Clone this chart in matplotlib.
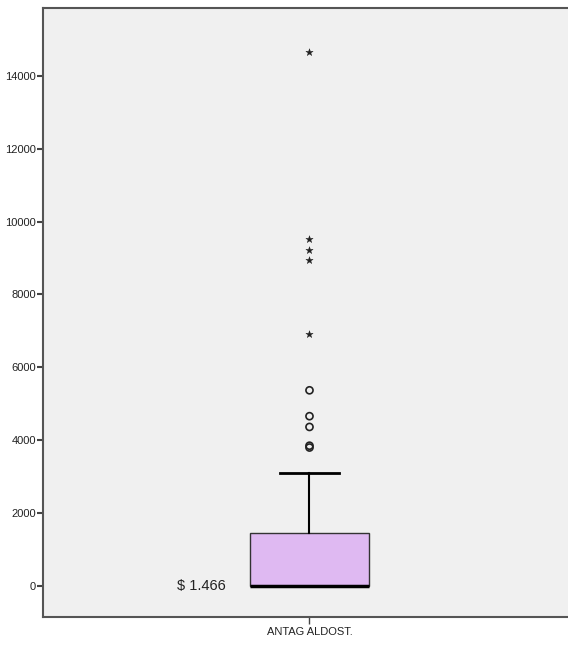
import matplotlib.pyplot as plt
import numpy as np

plt.rcParams['font.family'] = ['Liberation Sans', 'DejaVu Sans']

# boxplot summary
group = "ANTAG ALDOST."
q1 = 0
median = 0
q3 = 1466
whisker_lo = 0
whisker_hi = 3090
# outliers (circles) and extreme values (stars)
outliers = [5370, 4660, 4365, 3850, 3800]
extremes = [14640, 9530, 9230, 8950, 6920]
label_text = "$ 1.466"
yticks = [0, 2000, 4000, 6000, 8000, 10000, 12000, 14000]

fig = plt.figure(figsize=(5.68, 6.46), dpi=100)
ax = fig.add_axes([43/568, 29/646, 525/568, 609/646])
ax.set_facecolor('#f0f0f0')

pos = 0.5076
stats = [dict(med=median, q1=q1, q3=q3, whislo=whisker_lo, whishi=whisker_hi, fliers=[])]
ax.bxp(stats, positions=[pos], widths=0.2267, patch_artist=True, showfliers=False,
       boxprops=dict(facecolor='#dfb9f2', edgecolor='#333333', linewidth=1),
       medianprops=dict(color='black', linewidth=2.5),
       whiskerprops=dict(color='black', linewidth=1.5),
       capprops=dict(color='black', linewidth=2),
       capwidths=0.112)

ax.scatter([pos]*len(outliers), outliers, marker='o', s=26, facecolors='none',
           edgecolors='#222222', linewidths=1.2, zorder=3)
ax.scatter([pos]*len(extremes), extremes, marker='*', s=30, color='#222222',
           linewidths=0.3, zorder=3)

ax.text(0.3486, 0, label_text, ha='right', va='center', fontsize=10.5, color='#222222')

ax.set_xlim(0, 1)
ax.set_ylim(-850, 15860)
ax.set_yticks(yticks)
ax.set_yticklabels([str(v) for v in yticks], fontsize=8, color='#222222')
ax.set_xticks([pos])
ax.set_xticklabels([group], fontsize=8, color='#222222')
ax.tick_params(axis='y', length=4, width=1.5, color='#444444', pad=1)
ax.tick_params(axis='x', length=5, width=1, color='#444444', pad=2)

for s in ['left', 'bottom', 'top']:
    ax.spines[s].set_color('#555555')
    ax.spines[s].set_linewidth(1.5)
ax.spines['right'].set_visible(False)

fig.savefig('out.png', dpi=100)
